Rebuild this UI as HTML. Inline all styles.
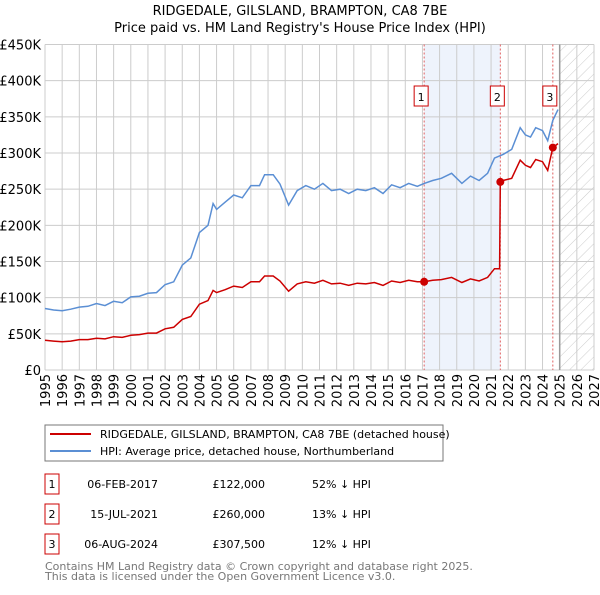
<!DOCTYPE html>
<html><head><meta charset="utf-8"><style>
body{margin:0;background:#fff;font-family:"Liberation Sans","DejaVu Sans",sans-serif;}
svg text{font-family:"DejaVu Sans","Liberation Sans",sans-serif;}
</style></head><body>
<svg id="c" width="600" height="590" xmlns="http://www.w3.org/2000/svg">
<defs><pattern id="hatch" width="8" height="8" patternUnits="userSpaceOnUse" patternTransform="rotate(45)"><line x1="0" y1="0" x2="0" y2="8" stroke="#ccc" stroke-width="1"/></pattern></defs>
<text x="300" y="15" text-anchor="middle" font-size="13">RIDGEDALE, GILSLAND, BRAMPTON, CA8 7BE</text>
<text x="300" y="32" text-anchor="middle" font-size="13">Price paid vs. HM Land Registry's House Price Index (HPI)</text>
<g id="plot"></g>
<rect x="45" y="425" width="398" height="36" fill="#fff" stroke="#777"/>
<line x1="50" y1="434" x2="91" y2="434" stroke="#cc0000" stroke-width="2"/>
<text x="100" y="438" font-size="11">RIDGEDALE, GILSLAND, BRAMPTON, CA8 7BE (detached house)</text>
<line x1="50" y1="451" x2="91" y2="451" stroke="#5b8fd4" stroke-width="2"/>
<text x="100" y="455" font-size="11">HPI: Average price, detached house, Northumberland</text>
<g id="table"></g>
<text x="45" y="570" font-size="11" fill="#777">Contains HM Land Registry data © Crown copyright and database right 2025.</text>
<text x="45" y="580" font-size="11" fill="#777">This data is licensed under the Open Government Licence v3.0.</text>
</svg>
<script>
const hpiYears=[1995,1995.5,1996,1996.5,1997,1997.5,1998,1998.5,1999,1999.5,2000,2000.5,2001,2001.5,2002,2002.5,2003,2003.5,2004,2004.5,2004.8,2005,2005.5,2006,2006.5,2007,2007.5,2007.8,2008.3,2008.7,2009.2,2009.7,2010.2,2010.7,2011.2,2011.7,2012.2,2012.7,2013.2,2013.7,2014.2,2014.7,2015.2,2015.7,2016.2,2016.7,2017.1,2017.6,2018.1,2018.7,2019.3,2019.8,2020.3,2020.8,2021.2,2021.7,2022.2,2022.7,2023.0,2023.3,2023.6,2024.0,2024.3,2024.6,2024.9];
const hpiValues=[85,83,82,84,87,88,92,89,95,93,101,102,106,107,118,122,145,155,190,200,230,222,232,242,238,255,255,270,270,257,228,248,255,250,258,248,250,244,250,248,252,244,256,252,258,254,258,262,265,272,258,268,262,272,293,298,305,335,325,322,335,331,317,345,360];
const redYears=[1995,1995.5,1996,1996.5,1997,1997.5,1998,1998.5,1999,1999.5,2000,2000.5,2001,2001.5,2002,2002.5,2003,2003.5,2004,2004.5,2004.8,2005,2005.5,2006,2006.5,2007,2007.5,2007.8,2008.3,2008.7,2009.2,2009.7,2010.2,2010.7,2011.2,2011.7,2012.2,2012.7,2013.2,2013.7,2014.2,2014.7,2015.2,2015.7,2016.2,2016.7,2017.1,2017.6,2018.1,2018.7,2019.3,2019.8,2020.3,2020.8,2021.2,2021.5,2021.54,2021.7,2022.2,2022.7,2023.0,2023.3,2023.6,2024.0,2024.3,2024.6,2024.9];
const redValues=[41,40,39,40,42,42,44,43,46,45,48,49,51,51,57,59,70,74,91,96,110,107,111,116,114,122,122,130,130,123,109,119,122,120,124,119,120,117,120,119,121,117,123,121,124,122,122,124,125,128,121,126,123,128,140,140,260,262,265,290,283,280,291,288,276,307.5,313];
const saleYears=[2017.1,2021.54,2024.6];
const saleValues=[122,260,307.5];
const saleLabels=["1","2","3"];
const saleDates=["06-FEB-2017","15-JUL-2021","06-AUG-2024"];
const salePrices=["£122,000","£260,000","£307,500"];
const saleHpi=["52% ↓ HPI","13% ↓ HPI","12% ↓ HPI"];
const yTicks=[0,50,100,150,200,250,300,350,400,450];
const yTickLabels=["£0","£50K","£100K","£150K","£200K","£250K","£300K","£350K","£400K","£450K"];
const xTicks=[1995,1996,1997,1998,1999,2000,2001,2002,2003,2004,2005,2006,2007,2008,2009,2010,2011,2012,2013,2014,2015,2016,2017,2018,2019,2020,2021,2022,2023,2024,2025,2026,2027];

const X0=45,X1=594,Y0=370,Y1=44.5;
const xs=y=>X0+(y-1995)/(2027-1995)*(X1-X0);
const ys=v=>Y0-v/450*(Y0-Y1);
const NS="http://www.w3.org/2000/svg";
const plot=document.getElementById('plot');
function mk(tag,attrs,parent){const e=document.createElementNS(NS,tag);for(const k in attrs)e.setAttribute(k,attrs[k]);(parent||plot).appendChild(e);return e;}

let e=mk('rect',{x:xs(saleYears[0]),y:Y1,width:xs(saleYears[1])-xs(saleYears[0]),height:Y0-Y1,fill:'#eef3fc'});


e=mk('rect',{x:xs(2025),y:Y1,width:X1-xs(2025),height:Y0-Y1,fill:'url(#hatch)'});


yTicks.forEach((t,i)=>{
  let g=mk('line',{x1:X0,x2:X1,y1:ys(t),y2:ys(t),stroke:'#ccc'});
  
  
  let l=mk('text',{x:X0-4,y:ys(t)+5,'text-anchor':'end','font-size':13});
  
  
  l.textContent=yTickLabels[i];
});
xTicks.forEach(t=>{
  let g=mk('line',{x1:xs(t),x2:xs(t),y1:Y1,y2:Y0,stroke:'#ccc'});
  
  
  let l=mk('text',{x:0,y:0,'text-anchor':'end','font-size':13,transform:`translate(${xs(t)+5},374) rotate(-90)`});
  
  
  l.textContent=t;
});
e=mk('line',{x1:xs(2025),x2:xs(2025),y1:Y1,y2:Y0,stroke:'#999','stroke-width':1.5});


saleYears.forEach((s,i)=>{
  let d=mk('line',{x1:xs(s),x2:xs(s),y1:Y1,y2:Y0,stroke:'#e06060','stroke-dasharray':'2,2'});
  
  
});
function path(xa,va){return xa.map((x,i)=>(i?'L':'M')+xs(x).toFixed(1)+','+ys(va[i]).toFixed(1)).join('');}
e=mk('path',{d:path(hpiYears,hpiValues),fill:'none',stroke:'#5b8fd4','stroke-width':1.5});


e=mk('path',{d:path(redYears,redValues),fill:'none',stroke:'#cc0000','stroke-width':1.5});


saleYears.forEach((s,i)=>{
  let p=mk('circle',{cx:xs(s),cy:ys(saleValues[i]),r:4,fill:'#cc0000'});
  
  
  let b=mk('rect',{x:xs(s)-10,y:86,width:14,height:20,fill:'#fff',stroke:'#cc0000'});
  
  
  let t=mk('text',{x:xs(s)-3,y:101,'text-anchor':'middle','font-size':11});
  
  
  t.textContent=saleLabels[i];
});
const tb=document.getElementById('table');
saleLabels.forEach((lab,i)=>{
  const y=483+i*30;
  let b=mk('rect',{x:45,y:y-9,width:14,height:20,fill:'#fff',stroke:'#cc0000'},tb);
  
  
  let t=mk('text',{x:52,y:y+5,'text-anchor':'middle','font-size':11},tb);
  
  
  t.textContent=lab;
  t=mk('text',{x:158,y:y+5,'text-anchor':'end','font-size':11},tb);
  
  
  t.textContent=saleDates[i];
  t=mk('text',{x:265,y:y+5,'text-anchor':'end','font-size':11},tb);
  
  
  t.textContent=salePrices[i];
  t=mk('text',{x:312,y:y+5,'font-size':11},tb);
  
  
  t.textContent=saleHpi[i];
});
</script>
</body></html>
